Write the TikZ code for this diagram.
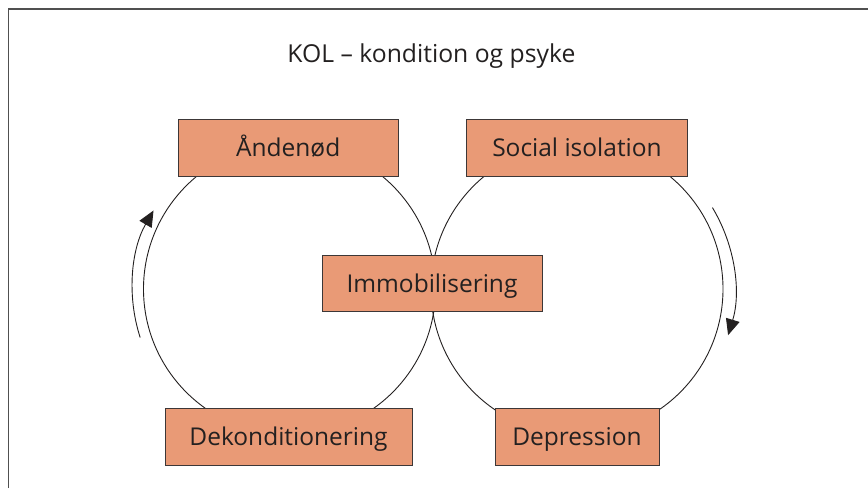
\documentclass[tikz,border=0pt]{standalone}
\usepackage{fontspec}
\setmainfont{Open Sans}
\usetikzlibrary{arrows.meta}
\definecolor{boxfill}{RGB}{233,154,118}
\definecolor{boxline}{RGB}{60,55,55}
\definecolor{inkc}{RGB}{35,32,32}
\definecolor{framec}{RGB}{80,80,80}
\tikzset{
  statebox/.style={draw=boxline, line width=1pt, fill=boxfill, rectangle,
    inner sep=0pt, text=inkc, font=\fontsize{24.5pt}{28pt}\selectfont,
    text height=17.5pt, text depth=0pt},
  loopline/.style={draw=inkc, line width=0.9pt},
  cyclearrow/.style={draw=inkc, line width=0.9pt, -{Triangle[length=16pt,width=14pt]}}
}
\begin{document}
\begin{tikzpicture}[x=1pt,y=1pt]
\useasboundingbox (0,0) rectangle (868,488);
% frame
\draw[framec, line width=1.3pt] (8.3,0) -- (8.3,479) -- (868,479);
% circles
\coordinate (CL) at (289.5,199);
\coordinate (CR) at (577,199);
\draw[loopline] (CL) circle[radius=146pt];
\draw[loopline] (CR) circle[radius=146pt];
% title
\node[anchor=base, text=inkc, font=\fontsize{24.7pt}{28pt}\selectfont] (title) at (431.4,425) {KOL – kondition og psyke};
% boxes
\node[statebox, minimum width=219.7pt, minimum height=57pt] (aande) at (288.2,340.1) {Åndenød};
\node[statebox, minimum width=220.6pt, minimum height=57pt] (social) at (577,340.1) {Social isolation};
\node[statebox, minimum width=220pt, minimum height=56pt] (immo) at (432,204) {Immobilisering};
\node[statebox, minimum width=247pt, minimum height=56.7pt] (dekon) at (288.5,51.3) {Dekonditionering};
\node[statebox, minimum width=164pt, minimum height=56.7pt] (depr) at (577,51.3) {Depression};
% cycle arrows
\draw[cyclearrow] ([shift={(198:157pt)}]CL) arc[start angle=198, end angle=150, radius=157pt];
\draw[cyclearrow] ([shift={(31:158pt)}]CR) arc[start angle=31, end angle=-17, radius=158pt];
\end{tikzpicture}
\end{document}
